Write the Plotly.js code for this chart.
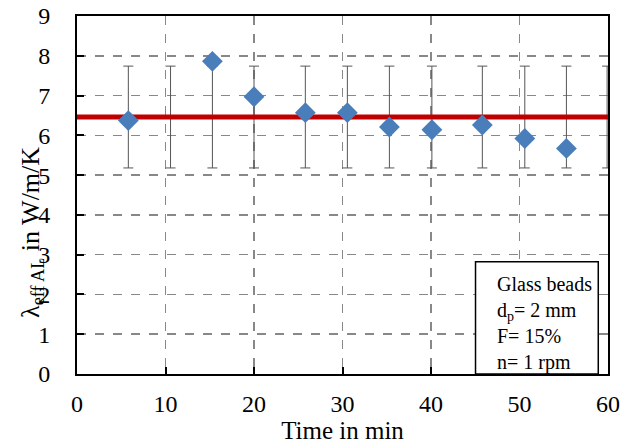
<!DOCTYPE html>
<html>
<head>
<meta charset="utf-8">
<script src="https://cdn.plot.ly/plotly-3.0.1.min.js"></script>
<style>html,body{margin:0;padding:0;background:#fff;}#chart{width:633px;height:445px;}</style>
</head>
<body>
<div id="chart"></div>
<script>
// Measured data points (time in min, lambda in W/m/K)
var timeMin = [5.8, 15.3, 20.0, 25.8, 30.55, 35.3, 40.1, 45.8, 50.6, 55.3];
var lambdaEff = [6.37, 7.86, 6.97, 6.57, 6.57, 6.21, 6.14, 6.26, 5.92, 5.67];

// Mean value line and its error bars
var meanX = [0, 60];
var meanY = [6.46, 6.46];
var errX = [5.8, 10.57, 15.3, 20.0, 25.8, 30.55, 35.3, 40.1, 45.8, 50.6, 55.3, 59.9];
var errY = [6.46, 6.46, 6.46, 6.46, 6.46, 6.46, 6.46, 6.46, 6.46, 6.46, 6.46, 6.46];
var errVal = [1.28, 1.28, 1.28, 1.28, 1.28, 1.28, 1.28, 1.28, 1.28, 1.28, 1.28, 1.28];

var xTicks = [0, 10, 20, 30, 40, 50, 60];
var yTicks = [0, 1, 2, 3, 4, 5, 6, 7, 8, 9];

var boxLines = ['Glass beads', 'd<sub>p</sub>= 2 mm', 'F= 15%', 'n= 1 rpm'];

var serif = 'Liberation Serif, Times New Roman, serif';

var traces = [
  {
    x: errX, y: errY, type: 'scatter', mode: 'markers',
    marker: {size: 1, color: 'rgba(0,0,0,0)'},
    error_y: {type: 'data', array: errVal, visible: true, color: '#555555', thickness: 1, width: 5},
    hoverinfo: 'skip', showlegend: false, cliponaxis: false
  },
  {
    x: meanX, y: meanY, type: 'scatter', mode: 'lines',
    line: {color: '#C00000', width: 5},
    showlegend: false
  },
  {
    x: timeMin, y: lambdaEff, type: 'scatter', mode: 'markers',
    marker: {symbol: 'diamond', size: 16, color: '#4A7EBB'},
    showlegend: false
  }
];

var layout = {
  width: 633, height: 445,
  margin: {l: 77, r: 25, t: 16, b: 71},
  paper_bgcolor: '#ffffff', plot_bgcolor: '#ffffff',
  font: {family: serif, size: 24, color: '#000'},
  showlegend: false,
  xaxis: {
    range: [0, 60], tickvals: xTicks, ticktext: xTicks.map(String),
    showgrid: true, gridcolor: '#888888', gridwidth: 1.5, griddash: 'dash',
    zeroline: false, showline: true, linecolor: '#000', linewidth: 2, mirror: true,
    ticks: 'inside', ticklen: 7, tickwidth: 2, tickcolor: '#000',
    ticklabelstandoff: 7,
    tickfont: {family: serif, size: 24, color: '#000'},
    title: {text: 'Time in min', font: {family: serif, size: 25, color: '#000'}, standoff: 5},
    automargin: false
  },
  yaxis: {
    range: [0, 9], tickvals: yTicks, ticktext: yTicks.map(String),
    showgrid: true, gridcolor: '#888888', gridwidth: 1.5, griddash: 'dash',
    zeroline: false, showline: true, linecolor: '#000', linewidth: 2, mirror: true,
    ticks: 'inside', ticklen: 7, tickwidth: 2, tickcolor: '#000',
    ticklabelstandoff: 20,
    tickfont: {family: serif, size: 24, color: '#000'},
    automargin: false
  },
  shapes: [
    {type: 'rect', xref: 'x', yref: 'y', x0: 45.03, x1: 58.9, y0: 0, y1: 2.82,
     fillcolor: '#ffffff', line: {color: '#000', width: 1.5}, layer: 'above'}
  ],
  annotations: [
    {xref: 'x', yref: 'y', x: 47.2, y: 1.27, xanchor: 'left', yanchor: 'middle', align: 'left',
     text: boxLines.join('<br>'), showarrow: false,
     font: {family: serif, size: 20, color: '#000'}},
    {xref: 'paper', yref: 'paper', x: -0.086, y: 0.395, xanchor: 'center', yanchor: 'middle',
     textangle: -90, showarrow: false,
     text: 'λ<sub>eff AL</sub> in W/m/K',
     font: {family: serif, size: 26, color: '#000'}}
  ]
};

Plotly.newPlot('chart', traces, layout, {displayModeBar: false, staticPlot: true});
</script>
</body>
</html>
